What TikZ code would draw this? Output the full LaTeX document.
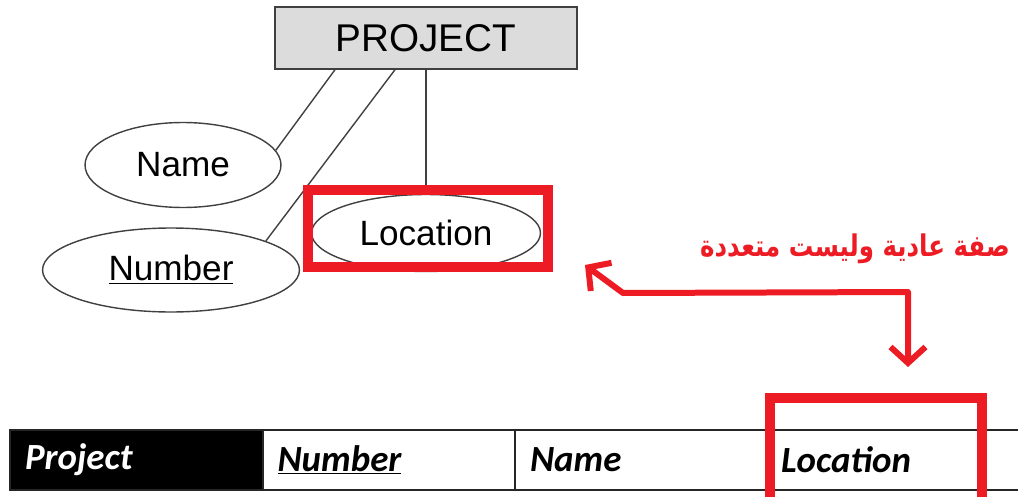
\documentclass[tikz,border=0pt]{standalone}
\usepackage{fontspec}
\setmainfont{Liberation Sans}
\newfontfamily\tablefont{Carlito}
\newfontfamily\arabicfont[Script=Arabic]{DejaVu Sans}
\TeXXeTstate=1
\usetikzlibrary{shapes.geometric, arrows.meta}
\definecolor{markred}{HTML}{ED1C24}
\definecolor{erline}{HTML}{404040}
\definecolor{entfill}{HTML}{DCDCDC}
\tikzstyle{entity} = [rectangle, draw=erline, line width=0.8pt, fill=entfill, minimum width=6.04cm, minimum height=1.24cm, font=\fontsize{22}{26}\selectfont]
\tikzstyle{attr} = [ellipse, draw=erline, line width=0.8pt, inner sep=0pt, font=\fontsize{20}{24}\selectfont]
\tikzstyle{link} = [draw=erline, line width=0.8pt]
\tikzstyle{cell} = [rectangle, draw=black!85, line width=0.8pt, minimum width=5.06cm, minimum height=1.2cm, inner xsep=0.3cm, text width=4.46cm, align=left, font=\tablefont\bfseries\itshape\fontsize{21}{25}\selectfont]
\tikzstyle{redbox} = [draw=markred, line width=0.2cm]
\tikzstyle{hint} = [draw=markred, line width=0.12cm, line join=round, line cap=round, {Straight Barb[length=0.32cm, width=0.7cm]}-{Straight Barb[length=0.32cm, width=0.7cm]}]

\begin{document}
\begin{tikzpicture}[x=0.02cm, y=-0.02cm]
  \useasboundingbox (0,0) rectangle (1018,497);

  % ER part
  \node[entity] (project) at (426,38) {PROJECT};
  \node[attr, minimum width=3.92cm, minimum height=1.7cm] (name) at (183,165) {Name};
  \node[attr, minimum width=5.14cm, minimum height=1.68cm] (number) at (171,270) {\underline{Number}};
  \node[attr, minimum width=4.58cm, minimum height=1.54cm] (location) at (426,233) {Location};

  \draw[link] ([xshift=-1.82cm]project.south) -- (name.9);
  \draw[link] ([xshift=-0.62cm]project.south) -- (number.17);
  \draw[link] (project.south) -- (location.north);

  \node[redbox, minimum width=4.8cm, minimum height=1.54cm] (locbox) at (428,228.5) {};

  % note
  \node[font=\arabicfont\bfseries\fontsize{17}{20}\selectfont, text=markred, inner sep=0pt] (note) at (855,249) {\scalebox{0.82}[1]{\beginR صفة عادية وليست متعددة\endR}};
  \coordinate (hintA) at (585,265);
  \coordinate (hintB) at (623,293);
  \coordinate (hintC) at (908,292);
  \coordinate (hintD) at (908,367);
  \draw[hint] (hintD) -- (hintC) -- (hintB) -- (hintA);

  % table
  \node[cell, fill=black, text=white] (tproject) at (136.5,460) {Project};
  \node[cell] (tnumber) at (389,460) {\underline{Number}};
  \node[cell] (tname) at (641.5,460) {Name};
  \node[cell] (tlocation) at (892.5,460) {Location};

  \draw[redbox] (770,398) rectangle (982,510);
\end{tikzpicture}
\end{document}
